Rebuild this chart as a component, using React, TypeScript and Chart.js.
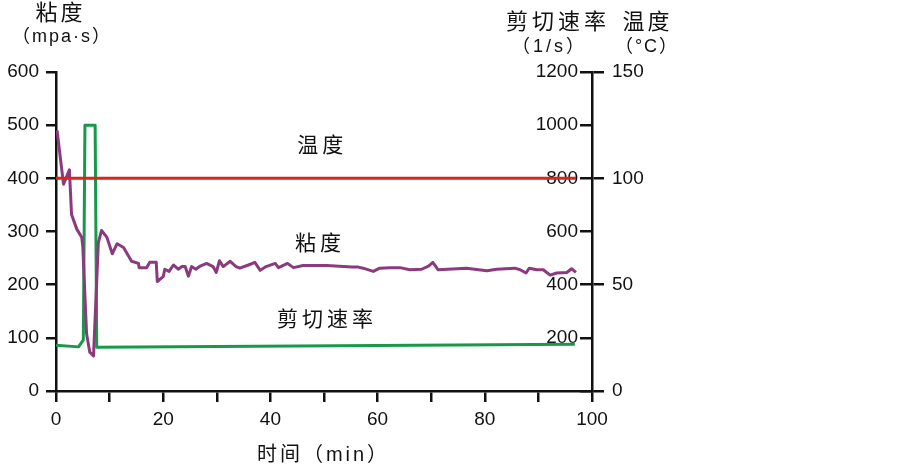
import { useEffect, useRef } from 'react';
import { Chart, registerables } from 'chart.js';

Chart.register(...registerables);

// ---- data ----
const viscTime = [0.2, 1.4, 2.5, 2.9, 3.9, 4.8, 5.0, 5.7, 6.3, 7.0, 7.9, 8.5, 9.5, 10.5, 11.4, 12.6, 14.1, 15.4, 15.5, 16.9, 17.5, 18.7, 18.9, 20.0, 20.3, 21.1, 21.9, 22.8, 23.5, 24.1, 24.7, 25.3, 26.1, 26.9, 28.1, 29.3, 29.9, 30.5, 31.2, 32.5, 33.6, 34.3, 35.9, 37.1, 38.1, 39.2, 40.9, 41.5, 43.2, 44.3, 46.1, 50.5, 55.2, 56.4, 57.3, 59.2, 60.4, 62.3, 64.2, 66.0, 68.2, 69.5, 70.3, 71.3, 76.6, 80.4, 82.2, 85.6, 86.6, 87.7, 88.3, 89.7, 90.9, 92.2, 93.4, 95.3, 96.2, 97.0];
const viscValues = [490, 389, 416, 332, 304, 289, 272, 108, 73, 66, 279, 302, 289, 258, 277, 270, 244, 240, 232, 232, 242, 242, 206, 215, 229, 225, 237, 229, 234, 234, 216, 234, 229, 235, 240, 234, 223, 245, 234, 244, 234, 231, 237, 242, 227, 234, 240, 232, 240, 232, 236, 236, 233, 233, 231, 225, 231, 232, 232, 228, 229, 235, 242, 228, 231, 226, 229, 231, 228, 222, 231, 228, 228, 218, 222, 223, 230, 223];

const shearTime = [0, 4.2, 5.1, 5.4, 7.3, 7.6, 96.8];
const shearValues = [172, 166, 192, 1000, 1000, 165, 176];

const tempTime = [0, 97];
const tempValues = [100, 100];

// axis ranges
const timeRange = [0, 100];
const viscRange = [0, 600];
const shearRange = [0, 1200];
const tempRange = [0, 150];

// text
const viscTitle = ['粘度', '（mpa·s）'];
const shearTitle = ['剪切速率', '（1/s）'];
const tempTitle = ['温度', '（°C）'];
const timeTitle = '时间（min）';
const seriesNames = ['温度', '粘度', '剪切速率'];
// where the in-plot series names sit (time, viscosity-axis value)
const seriesNameTime = [49.3, 48.9, 50.2];
const seriesNameVisc = [464, 281, 138];

const COLORS = { temp: '#d8261f', visc: '#8b3a7e', shear: '#17994a', axis: '#111111' };
const TICK_FONT = { family: '"Liberation Sans", Arial, sans-serif', size: 19 };
const CJK = '"Noto Sans CJK SC", "Noto Sans", sans-serif';
const MIXED = '"Liberation Sans", "Noto Sans CJK SC", sans-serif';

const pts = (xs: number[], ys: number[]) => xs.map((x, i) => ({ x, y: ys[i] }));

const textPlugin = {
  id: 'texts',
  afterDraw(chart: any) {
    const { ctx, chartArea, scales } = chart;
    const put = (s: string, cx: number, cy: number, size: number, spacing: number, family = CJK) => {
      ctx.font = `${size}px ${family}`;
      (ctx as any).letterSpacing = `${spacing}px`;
      const w = ctx.measureText(s).width - spacing;
      ctx.fillText(s, cx - w / 2, cy);
    };
    ctx.save();
    ctx.fillStyle = COLORS.axis;
    ctx.textAlign = 'left';
    ctx.textBaseline = 'middle';
    const L = chartArea.left;
    const R = chartArea.right;
    // left axis title
    put(viscTitle[0], L + 3, 12, 22, 3);
    put(viscTitle[1], L + 5, 37, 18, 2, MIXED);
    // right axes titles
    put(shearTitle[0], R - 36, 21, 22, 4);
    put(shearTitle[1], R - 44, 47, 18, 3, MIXED);
    put(tempTitle[0], R + 54, 21, 22, 3);
    put(tempTitle[1], R + 54, 47, 18, 2, MIXED);
    // time title
    put(timeTitle, (L + R) / 2 - 2, 455, 20, 3, MIXED);
    // series names
    const x = scales.x;
    const y = scales.y;
    seriesNames.forEach((n, i) => {
      put(n, x.getPixelForValue(seriesNameTime[i]), y.getPixelForValue(seriesNameVisc[i]), 21, 4);
    });
    ctx.restore();
  },
};

export default function App() {
  const ref = useRef<HTMLCanvasElement | null>(null);
  useEffect(() => {
    if (!ref.current) return;
    const gridBase = { drawOnChartArea: false, drawTicks: true, color: COLORS.axis, lineWidth: 2.5 };
    const chart = new Chart(ref.current, {
      type: 'line',
      data: {
        datasets: [
          { label: 'temp', data: pts(tempTime, tempValues), yAxisID: 'y2', borderColor: COLORS.temp, borderWidth: 3 },
          { label: 'visc', data: pts(viscTime, viscValues), yAxisID: 'y', borderColor: COLORS.visc, borderWidth: 3 },
          { label: 'shear', data: pts(shearTime, shearValues), yAxisID: 'y1', borderColor: COLORS.shear, borderWidth: 3 },
        ],
      },
      options: {
        responsive: false,
        animation: false,
        layout: { padding: { left: 0, top: 72, right: 231, bottom: 0 } },
        elements: { point: { radius: 0 }, line: { tension: 0, borderJoinStyle: 'round' } },
        plugins: { legend: { display: false }, tooltip: { enabled: false } },
        scales: {
          x: {
            type: 'linear',
            min: timeRange[0],
            max: timeRange[1],
            afterFit: (s: any) => { s.height = 74; },
            ticks: {
              stepSize: 10, autoSkip: false, maxRotation: 0, padding: 6, color: COLORS.axis, font: TICK_FONT,
              callback: (v: any) => (Number(v) % 20 === 0 ? String(v) : ''),
            },
            grid: { ...gridBase, tickLength: 11 },
            border: { display: true, color: COLORS.axis, width: 2.5 },
          },
          y: {
            type: 'linear',
            position: 'left',
            min: viscRange[0],
            max: viscRange[1],
            afterFit: (s: any) => { s.width = 56; },
            ticks: { stepSize: 100, padding: 7, color: COLORS.axis, font: TICK_FONT },
            grid: { ...gridBase, tickLength: 10 },
            border: { display: true, color: COLORS.axis, width: 2.5 },
          },
          y1: {
            type: 'linear',
            position: 'right',
            weight: 0,
            z: 1,
            min: shearRange[0],
            max: shearRange[1],
            afterFit: (s: any) => { s.width = 0; },
            ticks: {
              stepSize: 200, mirror: true, padding: -14, color: COLORS.axis, font: TICK_FONT,
              callback: (v: any) => (Number(v) === 0 ? '' : String(v)),
            },
            grid: { ...gridBase, tickLength: -12 },
            border: { display: false },
          },
          y2: {
            type: 'linear',
            position: 'right',
            weight: 1,
            min: tempRange[0],
            max: tempRange[1],
            afterFit: (s: any) => { s.width = 80; },
            ticks: { stepSize: 50, padding: 8, color: COLORS.axis, font: TICK_FONT },
            grid: { ...gridBase, tickLength: 12 },
            border: { display: true, color: COLORS.axis, width: 2.5 },
          },
        },
      } as any,
      plugins: [textPlugin],
    });
    return () => chart.destroy();
  }, []);
  return (
    <div style={{ position: 'fixed', left: 0, top: 0, width: 903, height: 465, background: '#fff' }}>
      <canvas ref={ref} width={903} height={465} style={{ display: 'block' }} />
    </div>
  );
}
